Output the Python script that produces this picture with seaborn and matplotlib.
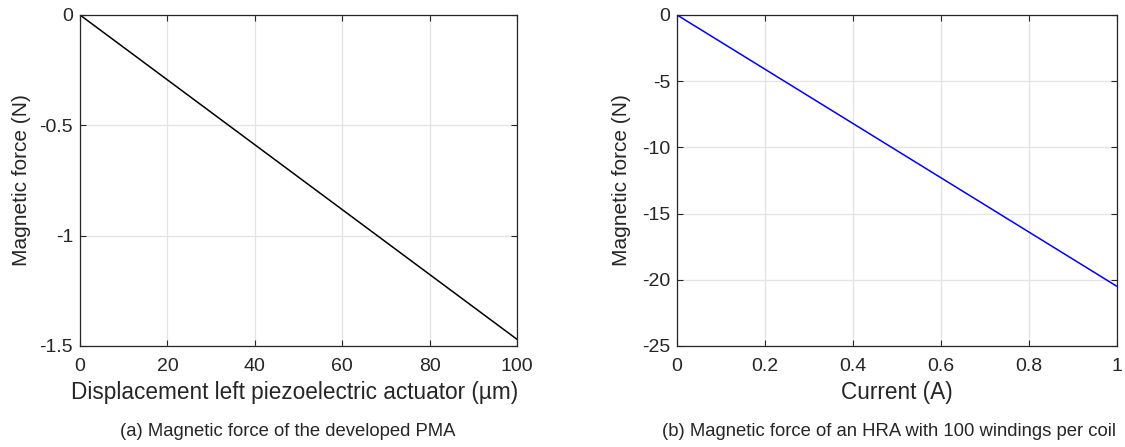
import numpy as np
import pandas as pd
import matplotlib
matplotlib.use('Agg')
import matplotlib.pyplot as plt
import matplotlib.ticker as mticker
import seaborn as sns

# left panel: PMA force vs actuator displacement
disp_um = [0, 20, 40, 60, 80, 100]
force_pma = [0, -0.294, -0.588, -0.882, -1.176, -1.47]

# right panel: HRA force vs coil current
current_a = [0, 0.2, 0.4, 0.6, 0.8, 1.0]
force_hra = [0, -4.1, -8.2, -12.3, -16.4, -20.5]

left_xticks = [0, 20, 40, 60, 80, 100]
left_yticks = [0, -0.5, -1, -1.5]
right_xticks = [0, 0.2, 0.4, 0.6, 0.8, 1]
right_yticks = [0, -5, -10, -15, -20, -25]

sns.set_style("whitegrid")
plt.rcParams['font.family'] = ['Liberation Sans', 'DejaVu Sans']
plt.rcParams['axes.unicode_minus'] = False

fig = plt.figure(figsize=(11.25, 4.47), dpi=100)
ax1 = fig.add_axes([0.0711, 0.226, 0.3885, 0.7405])
ax2 = fig.add_axes([0.6018, 0.226, 0.3911, 0.7405])

df1 = pd.DataFrame({'x': disp_um, 'y': force_pma})
df2 = pd.DataFrame({'x': current_a, 'y': force_hra})
sns.lineplot(data=df1, x='x', y='y', ax=ax1, color='black', linewidth=1.1)
sns.lineplot(data=df2, x='x', y='y', ax=ax2, color='#0000ff', linewidth=1.1)

ax1.set_xlim(0, 100)
ax1.set_ylim(-1.5, 0)
ax2.set_xlim(0, 1)
ax2.set_ylim(-25, 0)
ax1.set_xticks(left_xticks)
ax1.set_yticks(left_yticks)
ax2.set_xticks(right_xticks)
ax2.set_yticks(right_yticks)

ax1.set_xlabel('Displacement left piezoelectric actuator (µm)', fontsize=16.3,
               color='#262626', labelpad=4)
ax1.xaxis.label.set_x(0.49)
ax1.set_ylabel('Magnetic force (N)', fontsize=15, color='#262626', labelpad=6)
ax2.set_xlabel('Current (A)', fontsize=16.3, color='#262626', labelpad=4)
ax2.set_ylabel('Magnetic force (N)', fontsize=15, color='#262626', labelpad=8)

for ax in (ax1, ax2):
    ax.xaxis.set_major_formatter(mticker.FormatStrFormatter('%g'))
    ax.yaxis.set_major_formatter(mticker.FormatStrFormatter('%g'))
    ax.grid(True, color='#e3e3e3', linewidth=0.9)
    ax.tick_params(direction='in', length=4, width=0.8, color='#262626',
                   labelsize=14, labelcolor='#262626',
                   top=True, right=True, bottom=True, left=True)
    ax.tick_params(axis='x', pad=9)
    ax.tick_params(axis='y', pad=5)
    for s in ax.spines.values():
        s.set_color('#262626')
        s.set_linewidth(0.9)

fig.text(0.256, 0.034, '(a) Magnetic force of the developed PMA',
         ha='center', va='center', fontsize=13.3, color='#262626')
fig.text(0.790, 0.034, '(b) Magnetic force of an HRA with 100 windings per coil',
         ha='center', va='center', fontsize=13.3, color='#262626')

fig.savefig('out.png', dpi=100)
